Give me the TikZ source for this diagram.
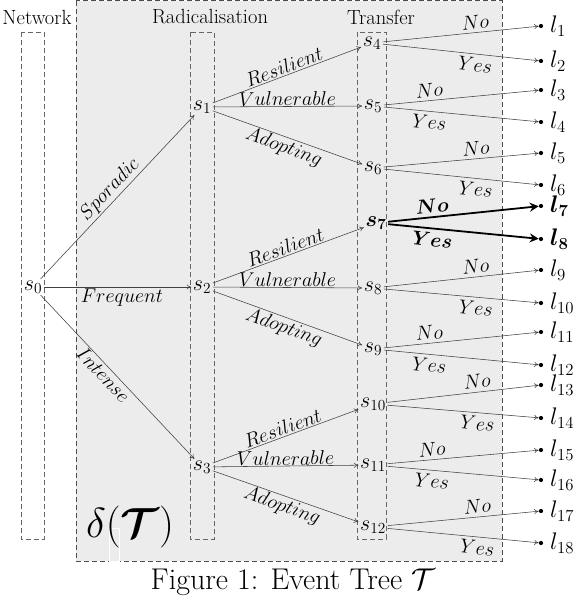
\RequirePackage{fix-cm}
\documentclass[tikz,border=0pt]{standalone}
\usepackage{amsmath,bm}
\usetikzlibrary{arrows.meta}
\begin{document}
\begin{tikzpicture}[x=1pt,y=-1pt,
  state/.style={inner sep=1.5pt, font=\fontsize{22}{26}\selectfont},
  hdr/.style={font=\fontsize{20.5}{24}\selectfont, inner sep=0},
  lab/.style={font=\fontsize{20}{23}\selectfont, sloped, inner sep=1.5pt},
  yn/.style={font=\fontsize{20}{23}\selectfont, sloped, inner sep=3.5pt},
  br/.style={draw=black!75, line width=0.55pt, -{To[length=4.5pt,width=5pt]}},
  bbr/.style={draw=black, line width=1.8pt, -{Stealth[length=9pt,width=9pt]}},
  dot/.style={circle, fill=black, inner sep=0, minimum size=4.2pt},
  leaf/.style={anchor=west, inner sep=0, font=\fontsize{24}{27}\selectfont},
  col/.style={draw=black!60, line width=0.7pt, dash pattern=on 5pt off 3pt},
]
\useasboundingbox (0,0) rectangle (574,596);
\filldraw[fill=gray!15, draw=black!70, line width=0.7pt, dash pattern=on 5pt off 3pt] (76,0.8) rectangle (502,561);
\draw[col] (21,32) rectangle (44,539);
\draw[col] (190,32) rectangle (214,539);
\draw[col] (357,32) rectangle (386,539);
\draw[white, line width=0.6pt] (109,528) rectangle (119,561);

\node[hdr] (hnet) at (37,17) {Network};
\node[hdr] (hrad) at (210,17) {Radicalisation};
\node[hdr] (htr) at (381,17) {Transfer};
\node[font=\fontsize{42}{46}\selectfont, inner sep=0] (delta) at (130,527) {$\delta(\bm{\mathcal{T}})$};
\node[font=\fontsize{30}{33}\selectfont, inner sep=0] (cap) at (293,582) {Figure 1: Event Tree $\mathcal{T}$};

\node[state] (s0) at (33,287) {$s_0$};
\node[state] (s1) at (202,107) {$s_1$};
\node[state] (s2) at (202,287) {$s_2$};
\node[state] (s3) at (202,467) {$s_3$};
\foreach \i/\x/\y in {4/372/43,5/373/106,6/373/168,8/373/288,9/373/349,10/373/404,11/373/465,12/373/527}{
  \node[state] (s\i) at (\x,\y) {$s_{\i}$};
}
\node[state] (s7) at (376,223) {$\bm{s_7}$};

\foreach \i/\y in {1/26,2/61,3/90,4/122,5/153,6/185,9/270,10/303,11/332,12/365,13/385,14/418,15/450,16/480,17/511,18/543}{
  \node[dot] (d\i) at (541,\y) {};
  \node[leaf] (l\i) at (550,\y) {$l_{\i}$};
}
\node[dot] (d7) at (541,206) {};
\node[leaf] (l7) at (550,206) {$\bm{l_7}$};
\node[dot] (d8) at (541,239) {};
\node[leaf] (l8) at (550,239) {$\bm{l_8}$};

\draw[br] (s0) -- node[lab, above, pos=0.5]{$Sporadic$} (s1);
\draw[br] (s0) -- node[lab, below, pos=0.53]{$Frequent$} (s2);
\draw[br] (s0) -- node[lab, below, pos=0.45]{$Intense$} (s3);

\foreach \r/\a/\b/\c in {1/4/5/6, 2/7/8/9, 3/10/11/12}{
  \draw[br] (s\r) -- node[lab, above]{$Resilient$} (s\a);
  \draw[br] (s\r) -- node[lab, above, inner sep=0.5pt]{$Vulnerable$} (s\b);
  \draw[br] (s\r) -- node[lab, below]{$Adopting$} (s\c);
}

\foreach \s/\a/\b/\p in {4/1/2/0.6, 5/3/4/0.3, 6/5/6/0.6, 8/9/10/0.6, 9/11/12/0.3, 10/13/14/0.6, 11/15/16/0.3, 12/17/18/0.6}{
  \draw[br] (s\s) -- node[yn, above, pos=\p]{$No$} (d\a);
  \draw[br] (s\s) -- node[yn, below, pos=\p]{$Yes$} (d\b);
}
\draw[bbr] (s7) -- node[yn, above, pos=0.3]{$\bm{No}$} (d7);
\draw[bbr] (s7) -- node[yn, below, pos=0.3]{$\bm{Yes}$} (d8);
\end{tikzpicture}
\end{document}
